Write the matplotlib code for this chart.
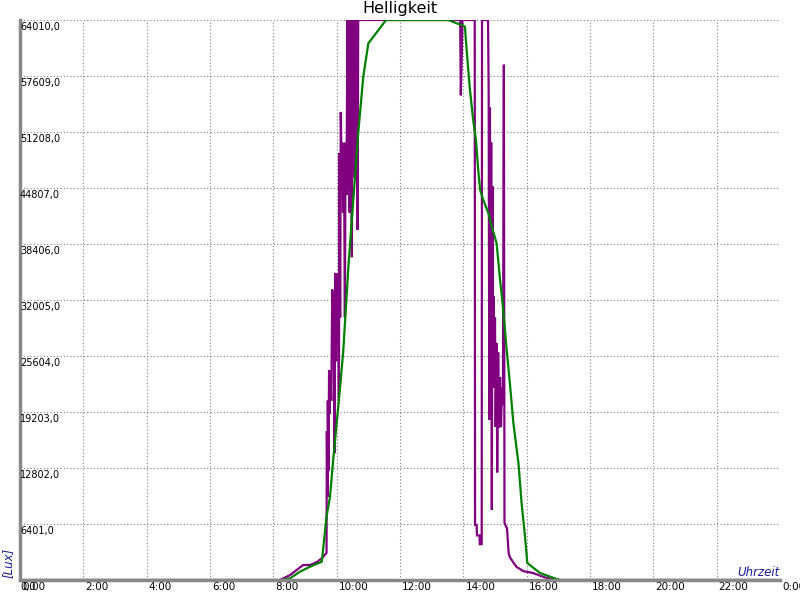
import matplotlib
matplotlib.use("Agg")
import matplotlib.pyplot as plt
import matplotlib.transforms as mtransforms

# raw sensor (hours, lux)
raw_h = [0.0, 8.21, 8.53, 8.94, 9.16, 9.38, 9.54, 9.68,
         9.69, 9.71, 9.72, 9.74, 9.76, 9.78, 9.80, 9.83, 9.86, 9.88, 9.90, 9.93,
         9.96, 9.98, 10.00, 10.02, 10.05, 10.07, 10.09, 10.11, 10.13, 10.16, 10.18,
         10.20, 10.23, 10.26, 10.28, 10.31, 10.34, 10.36, 10.39, 10.41, 10.43, 10.46,
         10.48, 10.50, 10.52, 10.54, 10.57, 10.59, 10.62, 10.64, 10.66, 10.68,
         13.90, 13.92, 13.95, 13.97, 14.36, 14.37, 14.42, 14.43, 14.51, 14.52, 14.58,
         14.59, 14.78, 14.80, 14.82, 14.84, 14.86, 14.88, 14.90, 14.92, 14.94, 14.96,
         14.98, 15.00, 15.02, 15.05, 15.07, 15.10, 15.13, 15.16, 15.19, 15.22, 15.25,
         15.28, 15.30, 15.38, 15.43, 15.47, 15.58, 15.68, 15.90, 16.20, 16.42, 16.63,
         16.95, 24.0]
raw_lux = [0, 0, 570, 1710, 1710, 2060, 2510, 3100,
           17000, 9500, 20500, 12500, 24000, 19000, 23500, 20500, 33200, 26800, 33000, 14500,
           35100, 25000, 35000, 27000, 35000, 20500, 48800, 30000, 53500, 46000, 50000,
           42000, 49500, 30000, 50000, 44000, 64010, 45000, 64010, 42000, 64010, 50000,
           36900, 64010, 55000, 64010, 46000, 64010, 52000, 64010, 40000, 64010,
           64010, 55400, 59700, 64010, 64010, 6300, 6300, 5100, 5100, 4100, 4100,
           64010, 64010, 56000, 18300, 54000, 30000, 50000, 8000, 45000, 22000, 32400,
           22900, 30000, 17500, 27100, 12300, 26000, 17400, 23200, 17500, 22000, 20000,
           58900, 6500, 5900, 3100, 2600, 2000, 1500, 1000, 800, 500, 230,
           0, 0]

# smoothed (hours, lux)
avg_h = [0.47, 8.26, 8.53, 8.84, 9.16, 9.53, 9.58, 9.68, 9.79, 9.89, 10.0, 10.1,
         10.21, 10.37, 10.68, 10.84, 11.0, 11.56, 13.53, 13.79, 13.95, 14.05, 14.10,
         14.20, 14.31, 14.40, 14.47, 14.53, 14.63, 14.79, 14.90, 15.05, 15.10, 15.16,
         15.23, 15.37, 15.47, 15.58, 15.74, 15.84, 15.95, 16.02, 16.42, 16.85, 17.05,
         23.68]
avg_lux = [0, 0, 200, 950, 1520, 2090, 3800, 7240, 9520, 13700, 17950, 21700,
           26290, 35800, 51050, 57530, 61340, 64010, 64010, 63630, 63440, 63250, 60800,
           56380, 52580, 50290, 46860, 44580, 43440, 41950, 40380, 38500, 36600, 34300,
           32000, 26300, 22500, 17950, 13370, 8800, 4900, 1940, 800, 230, 0,
           0]

y_ticks = [0, 6401, 12802, 19203, 25604, 32005, 38406, 44807, 51208, 57609, 64010]
x_ticks = [0, 2, 4, 6, 8, 10, 12, 14, 16, 18, 20, 22, 24]
x_labels = ["0:00", "2:00", "4:00", "6:00", "8:00", "10:00", "12:00", "14:00",
            "16:00", "18:00", "20:00", "22:00", "0:00"]

fig = plt.figure(figsize=(8, 6), dpi=100)
ax = fig.add_axes([20 / 800, 20 / 600, 760 / 800, 560 / 600])
ax.set_xlim(0, 24)
ax.set_ylim(0, 64010)

ax.plot(raw_h, raw_lux, color="#800080", lw=1.6, solid_joinstyle="miter", zorder=3)
ax.plot(avg_h, avg_lux, color="#008000", lw=1.6, zorder=4)

ax.set_xticks(x_ticks)
ax.set_yticks(y_ticks)
ax.set_xticklabels([])
ax.set_yticklabels([])
ax.tick_params(length=0)
ax.grid(True, color="#808080", linestyle=(0, (1, 2)), linewidth=0.8)
for s in ["top", "right"]:
    ax.spines[s].set_visible(False)
ax.spines["left"].set_color("#888888")
ax.spines["left"].set_linewidth(2.5)
ax.spines["bottom"].set_color("#888888")
ax.spines["bottom"].set_linewidth(2.5)
ax.spines["left"].set_zorder(5)
ax.spines["bottom"].set_zorder(5)

ytr = mtransforms.offset_copy(ax.get_yaxis_transform(), fig=fig, x=0, y=-2, units="dots")
for v in y_ticks:
    ax.text(0, v, ("%.1f" % v).replace(".", ","), transform=ytr, ha="left", va="top",
            fontsize=7, clip_on=False, zorder=6)

xtr = mtransforms.offset_copy(ax.get_xaxis_transform(), fig=fig, x=2, y=-2, units="dots")
for v, lab in zip(x_ticks, x_labels):
    ax.text(v, 0, lab, transform=xtr, ha="left", va="top", fontsize=7.5, clip_on=False)

fig.text(0.5, 1 - 8 / 600, "Helligkeit", ha="center", va="center", fontsize=11.5)
fig.text(8 / 800, 1 - 563 / 600, "[Lux]", rotation=90, ha="center", va="center",
         fontsize=8.5, style="italic", color="#1c1ca0")
fig.text(780 / 800, 1 - 572 / 600, "Uhrzeit", ha="right", va="center",
         fontsize=8.5, style="italic", color="#1c1ca0")

fig.savefig("out.png", dpi=100)
